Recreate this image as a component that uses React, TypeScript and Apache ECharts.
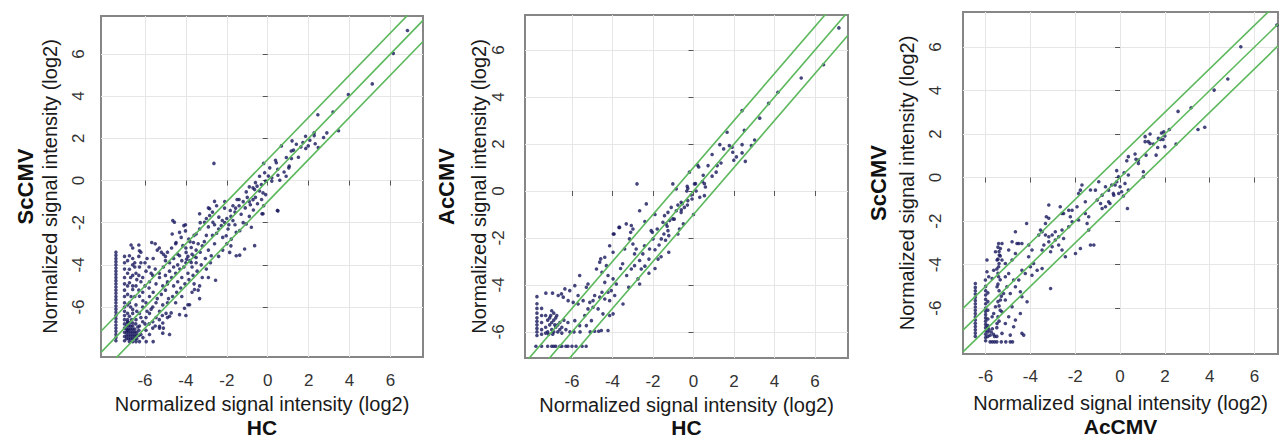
import React, { useEffect, useRef } from "react";
import * as echarts from "echarts";

// ---------- DATA ----------
const tickValues = [-6, -4, -2, 0, 2, 4, 6];
const foldOffsets = [1, 0, -1];
const axisTitle = "Normalized signal intensity (log2)";

// Panel 1: HC (x) vs ScCMV (y)
const hcVsScCMV: number[][] = [
  [6.83, 7.11], [6.14, 6.03], [5.11, 4.58], [3.94, 4.08], [3.19, 3.25], [2.45, 3.12], [3.46, 2.36], [2.89, 2.26],
  [2.73, 2.04], [2.27, 2.26], [2.27, 2.13], [1.85, 2.1], [2.06, 1.91], [2.32, 1.74], [2.47, 1.56], [1.98, 1.64],
  [1.86, 1.52], [1.62, 1.59], [1.72, 1.8], [1.4, 1.72], [1.19, 1.88], [1.26, 1.44], [1.15, 1.4], [0.91, 1.09],
  [1.16, 1.04], [0.67, 1.64], [1.05, 0.68], [1.03, 0.6], [0.38, 0.96], [0.42, 0.84], [0.49, 0.53], [-0.2, 0.81],
  [-0.15, 0.37], [0.03, 0.21], [0.2, 0.13], [0.2, -0.03], [0.5, 0.25], [0.59, 0.01], [-0.1, -0.03], [-0.31, -0.19],
  [-0.52, -0.27], [-0.64, -0.43], [-0.23, -0.59], [-0.1, -0.67], [-0.4, -0.5], [-0.72, -0.91], [-0.85, -1.15],
  [0.5, -1.44], [-0.23, -1.58],
  [-2.6, -0.99], [-2.11, -1.31], [-2.84, -1.34], [-1.83, -1.42], [-1.57, -1.31], [-2.84, -1.66], [-2.39, -1.74],
  [-2.22, -1.9], [-2.68, -1.98], [-2.27, -2.14], [-1.94, -2.3], [-2.03, -2.62], [-1.78, -2.78], [-1.54, -2.46],
  [-1.37, -2.38], [-1.05, -2.06], [-0.8, -2.22], [-0.64, -3.09], [-1.13, -3.25], [-1.54, -3.57], [-1.37, -3.54],
  [-1.86, -3.41], [-1.05, -0.54], [-0.72, -0.35], [-2.63, 0.81], [-0.28, -1.58], [0.47, -1.42], [-2.55, -4.73],
  [-1.2, -1.0], [-1.0, -0.8], [-1.4, -1.2], [-1.6, -1.5], [-1.3, -1.6], [-1.1, -1.3], [-0.9, -1.0], [-0.6, -0.8],
  [-0.5, -1.1], [-0.7, -1.4], [-1.8, -1.7], [-2.0, -1.8], [-2.1, -2.0], [-1.9, -2.1], [-1.7, -1.9], [-2.4, -2.3],
  [-2.5, -2.5], [-2.7, -2.6], [-2.9, -2.2], [-2.5, -1.2], [-2.7, -1.5], [-2.9, -1.3], [-2.6, -2.1], [-2.2, -2.7],
  [-2.0, -3.0], [-1.6, -2.1], [-1.2, -2.0], [-0.9, -1.7], [-1.4, -0.9], [-1.7, -1.2], [-0.3, -0.9], [-0.2, -1.2],
  [-3.33, -1.58], [-3.09, -1.98], [-3.33, -2.3], [-3.5, -2.54], [-3.63, -2.94], [-4.56, -1.98], [-4.02, -2.1],
  [-4.02, -2.39], [-3.33, -5.6], [-3.9, -5.89], [-4.31, -6.36], [-4.72, -6.28], [-5.13, -7.24], [-4.64, -1.9],
  [-4.1, -2.14], [-3.86, -2.78], [-3.74, -3.18], [-3.99, -3.41], [-4.15, -3.09], [-4.31, -3.57], [-3.96, -3.73],
  [-3.74, -3.89], [-3.5, -3.65], [-4.23, -2.7], [-4.48, -2.94], [-4.31, -2.46], [-4.67, -2.54], [-2.76, -3.57],
  [-3.33, -5.0], [-3.58, -5.17], [-3.82, -5.89], [-4.07, -6.06], [-4.8, -6.44], [-5.13, -6.76], [-5.29, -6.92],
  [-3.0, -2.6], [-3.1, -2.9], [-3.2, -3.1], [-3.3, -3.4], [-3.4, -3.0], [-3.5, -3.3], [-3.6, -3.6], [-3.7, -3.5],
  [-3.8, -3.8], [-3.9, -3.6], [-4.0, -3.9], [-4.1, -4.1], [-4.2, -3.8], [-4.3, -4.2], [-4.4, -4.0], [-4.5, -4.4],
  [-4.6, -4.1], [-4.7, -4.6], [-4.8, -4.3], [-4.9, -4.8], [-5.0, -4.5], [-3.05, -3.7], [-3.25, -4.0], [-3.45, -4.3],
  [-3.65, -4.5], [-3.85, -4.7], [-4.05, -4.9], [-4.25, -5.1], [-4.45, -5.3], [-4.65, -5.5], [-4.85, -5.6],
  [-3.2, -4.6], [-3.4, -5.2], [-3.0, -4.2], [-2.8, -3.9], [-2.9, -3.3], [-3.6, -2.6], [-3.8, -2.9], [-4.0, -3.2],
  [-4.4, -3.5], [-4.6, -3.7], [-4.8, -3.9], [-5.0, -3.8], [-4.9, -3.4], [-4.7, -3.2], [-4.5, -3.0], [-4.2, -4.6],
  [-4.4, -4.8], [-4.6, -5.0], [-3.9, -4.4], [-3.7, -4.1], [-3.5, -3.9],
  [-6.2, -3.4], [-5.9, -3.7], [-5.7, -4.4], [-6.5, -5.5], [-6.3, -5.2], [-6.1, -5.7], [-5.9, -6.2], [-5.7, -6.1],
  [-5.5, -6.9], [-5.3, -6.6], [-5.15, -6.4], [-6.6, -6.3], [-6.4, -6.2], [-6.2, -6.5], [-6.0, -6.8], [-5.8, -6.8],
  [-4.9, -6.5], [-4.5, -5.8], [-4.2, -5.5], [-3.7, -5.3], [-3.6, -4.9], [-2.9, -4.6], [-2.4, -3.6], [-2.2, -3.3],
  [-1.8, -3.1], [-2.6, -3.0], [-3.0, -1.8], [-3.3, -2.0], [-2.1, -1.0], [-1.5, -0.9], [-0.6, -0.1], [-0.4, 0.2],
  [0.1, 0.6], [0.8, 0.4], [1.5, 1.1], [0.9, 0.2], [-0.9, -0.3], [-6.6, -3.2], [-6.2, -3.9], [-6.6, -5.0],
  [-6.3, -4.5], [-6.5, -4.1], [-6.7, -4.6], [-6.68, -5.5], [-6.7, -6.0],
  [-6.76, -3.57], [-6.6, -3.7], [-6.76, -4.21], [-6.6, -4.0], [-6.44, -4.4], [-6.27, -4.1], [-6.11, -4.6],
  [-5.95, -4.3], [-5.78, -4.8], [-5.62, -4.5], [-5.46, -4.9], [-5.29, -4.6], [-5.13, -5.0], [-6.76, -4.85],
  [-6.6, -5.17], [-6.44, -5.0], [-6.27, -5.49], [-6.11, -5.3], [-5.95, -5.8], [-5.78, -5.5], [-5.62, -6.0],
  [-5.46, -5.8], [-5.29, -6.2], [-5.13, -5.9], [-4.97, -6.3], [-6.76, -5.8], [-6.6, -6.12], [-6.44, -5.9],
  [-6.27, -6.3], [-6.11, -6.0], [-5.95, -6.5], [-5.78, -6.3], [-5.62, -6.7], [-5.46, -6.5], [-5.29, -7.0],
  [-6.76, -6.44], [-6.6, -6.76], [-6.44, -6.6], [-6.27, -6.9], [-6.11, -6.7], [-5.95, -7.1], [-5.78, -7.3],
  [-5.62, -7.0], [-6.5, -3.9], [-6.3, -3.6], [-6.0, -3.9], [-5.8, -4.1], [-5.6, -3.7], [-5.5, -4.2], [-5.4, -3.3],
  [-5.3, -3.2], [-5.2, -3.4], [-5.1, -3.5], [-5.0, -3.6], [-5.5, -3.0], [-5.3, -4.4], [-5.1, -4.1], [-4.9, -4.9],
  [-5.2, -5.4], [-5.0, -5.2], [-4.9, -5.8], [-5.4, -5.6], [-5.6, -5.3], [-5.8, -5.1], [-6.0, -5.0], [-6.2, -4.8],
  [-6.4, -4.7], [-6.6, -4.5], [-6.68, -3.06], [-6.3, -3.06], [-6.27, -3.33], [-5.67, -2.94], [-4.0, -6.4],
  [-4.8, -7.3], [-5.1, -7.0],
  [-7.42, -3.4], [-7.42, -3.55], [-7.42, -3.7], [-7.42, -3.85], [-7.42, -4.0], [-7.42, -4.15], [-7.42, -4.3],
  [-7.42, -4.45], [-7.42, -4.6], [-7.42, -4.75], [-7.42, -4.9], [-7.42, -5.05], [-7.42, -5.2], [-7.42, -5.35],
  [-7.42, -5.5], [-7.42, -5.65], [-7.42, -5.8], [-7.42, -5.95], [-7.42, -6.1], [-7.42, -6.25], [-7.42, -6.4],
  [-7.42, -6.55], [-7.42, -6.7], [-7.42, -6.85], [-7.42, -7.0], [-7.42, -7.15], [-7.42, -7.3], [-7.42, -7.45],
  [-7.42, -7.6],
  [-7.0, -3.6], [-7.0, -3.9], [-7.0, -4.2], [-7.0, -4.6], [-7.0, -4.9], [-7.0, -5.2], [-7.0, -5.5], [-7.0, -5.8],
  [-7.0, -6.0], [-7.0, -6.2], [-7.0, -6.4], [-7.0, -6.6], [-7.0, -6.8], [-7.0, -7.0], [-7.0, -7.2], [-7.0, -7.4],
  [-7.0, -7.6], [-6.85, -3.8], [-6.85, -4.4], [-6.85, -5.0], [-6.85, -5.4], [-6.85, -5.9], [-6.85, -6.3],
  [-6.85, -6.7], [-6.85, -7.1],
  [-6.9, -7.5], [-6.8, -7.5], [-6.7, -7.5], [-6.6, -7.5], [-6.5, -7.5], [-6.4, -7.5], [-6.9, -7.35], [-6.8, -7.35],
  [-6.7, -7.35], [-6.6, -7.35], [-6.5, -7.35], [-6.4, -7.35], [-6.3, -7.35], [-6.9, -7.2], [-6.8, -7.2],
  [-6.7, -7.2], [-6.6, -7.2], [-6.5, -7.2], [-6.4, -7.2], [-6.9, -7.05], [-6.8, -7.05], [-6.7, -7.05],
  [-6.6, -7.05], [-6.5, -7.05], [-6.9, -6.9], [-6.8, -6.9], [-6.7, -6.9], [-6.6, -6.9], [-6.85, -6.75],
  [-6.75, -6.75], [-6.65, -6.6], [-6.85, -6.6], [-6.3, -7.1], [-6.2, -7.3], [-6.1, -7.45], [-6.45, -6.8],
  [-6.35, -6.95],
  [-6.76, -7.64], [-6.6, -7.64], [-6.44, -7.64], [-6.27, -7.64], [-5.94, -7.64], [-5.6, -7.64],
];

// Panel 2: HC (x) vs AcCMV (y)
const hcVsAcCMV: number[][] = [
  [7.18, 6.94], [6.42, 5.37], [5.32, 4.81], [4.17, 4.2], [3.71, 3.73], [3.27, 3.1], [2.4, 3.42], [2.51, 2.58],
  [1.66, 2.5], [3.02, 2.17], [2.86, 1.93], [2.4, 1.97], [1.91, 1.86], [1.77, 1.93], [1.3, 1.97], [1.49, 1.79],
  [0.92, 1.55], [1.94, 1.65], [2.12, 1.45], [1.99, 1.31], [2.4, 1.62], [2.56, 1.26], [1.36, 1.19], [1.17, 1.08],
  [0.72, 1.08], [0.26, 1.02], [0.2, 1.1], [-0.2, 0.8], [1.12, 0.8], [0.92, 0.63], [0.48, 0.67], [0.1, 0.31],
  [0.54, 0.31], [0.44, 0.4], [0.59, 0.17], [-0.31, 0.2], [-0.33, 0.0], [0.31, -0.27], [0.54, -0.2], [-0.07, -0.34],
  [-0.56, -0.54], [-0.3, -0.6], [-0.45, -0.7], [-0.6, -0.8], [0.0, -1.0],
  [-2.79, 0.3], [-2.66, -0.84], [-2.33, -0.55], [-1.02, 0.3], [-0.85, 0.09], [-0.28, 0.11], [0.05, 0.3],
  [0.13, 0.0], [-0.11, -0.17], [-0.28, -0.41], [-0.61, -0.48], [-0.77, -0.6], [-1.1, -0.7], [-0.85, -0.84],
  [-0.61, -0.91], [-1.26, -0.91], [-1.43, -1.05], [-1.51, -1.33], [-1.18, -1.26], [-1.02, -1.19], [-1.35, -1.4],
  [-1.26, -1.69], [-0.69, -1.62], [-1.22, -1.9], [-0.77, -1.83], [-1.22, -2.61], [-1.59, -2.04], [-2.09, -1.69],
  [-2.0, -2.04], [-2.42, -2.33], [-2.17, -2.47], [-2.5, -2.68], [-2.66, -2.96], [-2.91, -3.18], [-3.07, -3.32],
  [-2.58, -3.32], [-2.74, -3.74], [-2.66, -3.96], [-3.07, -1.47], [-3.32, -1.4], [-2.99, -1.62], [-3.1, -1.76],
  [-3.16, -2.04], [-2.99, -2.26], [-2.83, -2.47], [-2.91, -2.68], [-3.4, -2.47], [-3.65, -1.55], [-3.92, -1.83],
  [-4.14, -2.33], [-3.97, -2.61], [-4.38, -2.82], [-4.58, -2.89], [-4.3, -3.18], [-4.63, -3.03], [-4.79, -3.32],
  [-4.52, -3.46], [-4.22, -3.6], [-3.97, -3.74], [-3.81, -3.96], [-4.38, -3.89], [-4.06, -4.24], [-4.22, -4.31],
  [-4.52, -4.31], [-4.63, -4.52], [-4.38, -4.6], [-4.14, -4.67], [-3.89, -4.45], [-3.48, -4.81], [-3.97, -5.23],
  [-4.14, -5.3], [-4.47, -5.23], [-4.71, -5.02], [-4.96, -4.95], [-5.21, -5.02], [-5.37, -5.3], [-5.29, -4.1],
  [-5.21, -3.96], [-5.62, -3.6], [-5.86, -4.03], [-6.11, -4.24], [-6.35, -4.17], [-6.52, -4.38], [-6.68, -4.45],
  [-6.43, -4.52], [-6.19, -4.67], [-5.94, -4.74], [-5.7, -4.81], [-5.45, -4.67], [-5.12, -4.74], [-4.96, -4.67],
  [-4.88, -4.45], [-5.7, -4.45], [-5.86, -5.52], [-5.62, -5.73], [-5.29, -5.73], [-5.04, -5.52], [-3.68, -1.55],
  [-3.96, -1.83], [-2.03, -1.76], [-1.79, -1.62], [-1.46, -1.83], [-1.3, -1.5], [-1.38, -2.1], [-1.7, -2.3],
  [-2.2, -2.9], [-2.4, -3.2], [-1.9, -2.5], [-1.6, -2.8], [-1.9, -3.3], [-2.2, -3.5], [-3.3, -3.6], [-3.5, -3.1],
  [-3.6, -3.3], [-2.4, -1.3], [-1.9, -1.0], [-0.95, -1.2], [-0.5, -1.4], [-1.75, -2.9], [-3.2, -4.1],
  [-7.73, -4.5], [-7.73, -4.8], [-7.73, -5.0], [-7.73, -5.2], [-7.73, -5.4], [-7.73, -5.55], [-7.73, -5.7],
  [-7.73, -5.85], [-7.73, -6.0], [-7.73, -6.15], [-7.5, -5.0], [-7.5, -5.3], [-7.5, -5.6], [-7.5, -5.9],
  [-7.5, -6.1], [-7.29, -4.35], [-6.96, -4.35],
  [-7.3, -5.3], [-7.2, -5.5], [-7.1, -5.7], [-7.0, -5.9], [-6.9, -6.0], [-7.2, -6.0], [-7.3, -5.8], [-7.1, -5.4],
  [-7.0, -5.6], [-6.9, -5.5], [-6.8, -5.8], [-6.7, -5.7], [-6.6, -5.6], [-6.8, -5.4], [-6.9, -5.2], [-7.0, -5.1],
  [-6.7, -6.0], [-6.6, -5.9], [-6.5, -5.8], [-6.4, -5.5], [-6.3, -5.9], [-6.2, -5.6], [-6.5, -6.05], [-6.1, -6.0],
  [-7.3, -6.05], [-7.15, -6.1], [-6.95, -6.1], [-6.85, -5.7], [-7.05, -5.3], [-6.75, -5.3],
  [-7.78, -6.61], [-7.5, -6.61], [-7.2, -6.61], [-7.0, -6.61], [-6.9, -6.61], [-6.8, -6.61], [-6.6, -6.61],
  [-6.5, -6.61], [-6.3, -6.61], [-6.2, -6.61], [-6.0, -6.61], [-5.8, -6.61], [-5.5, -6.61], [-5.3, -6.61],
  [-5.9, -6.0], [-5.6, -6.0], [-5.1, -6.0], [-4.88, -5.97], [-4.68, -5.97], [-4.55, -5.94], [-4.22, -5.94],
];

// Panel 3: AcCMV (x) vs ScCMV (y)
const acCMVVsScCMV: number[][] = [
  [7.0, 7.01], [5.39, 6.01], [4.81, 4.53], [4.2, 4.02], [3.17, 3.21], [2.59, 3.04], [3.78, 2.31], [3.48, 2.21],
  [2.5, 1.54], [2.2, 2.21], [2.0, 1.91], [2.0, 1.42], [1.95, 2.1], [1.85, 2.05], [1.92, 1.75], [1.8, 1.75],
  [1.71, 1.8], [1.49, 1.54], [1.34, 2.0], [1.12, 1.88], [1.12, 1.65], [1.26, 1.65], [1.34, 1.57], [1.16, 1.03],
  [1.61, 1.03], [1.68, 1.38], [0.67, 1.08], [0.71, 0.84], [0.82, 0.8], [0.82, 0.65], [0.37, 0.96], [0.3, 0.77],
  [1.04, 0.27], [1.04, 0.04], [0.37, 0.12], [-0.15, 0.32], [0.18, 0.22], [-0.07, 0.04], [-0.15, -0.19],
  [-0.22, -0.34], [0.0, -0.42], [0.22, -0.27], [0.07, -0.65], [-0.3, -0.73], [0.37, -0.57], [0.15, -0.85],
  [-0.45, -1.19], [0.33, -1.42], [-0.37, -0.34],
  [-0.06, -0.73], [-0.51, -0.58], [-0.65, -0.42], [-0.28, -0.81], [-0.8, -0.81], [-1.02, -1.03], [-0.87, -1.19],
  [-0.65, -1.34], [-0.51, -1.11], [-0.8, -1.42], [-1.1, -0.58], [-0.95, -0.19], [-1.7, -0.34], [-1.32, -0.57],
  [-1.77, -0.58], [-1.85, -0.73], [-1.55, -1.11], [-1.92, -1.34], [-2.14, -1.5], [-2.29, -1.5], [-2.59, -1.65],
  [-2.22, -1.8], [-1.85, -1.95], [-1.55, -1.65], [-1.4, -1.8], [-1.47, -2.11], [-1.4, -2.41], [-1.32, -3.1],
  [-1.17, -3.1], [-1.77, -3.26], [-1.99, -3.49], [-2.44, -3.64], [-2.59, -3.33], [-2.74, -3.1], [-3.03, -3.18],
  [-2.89, -2.87], [-3.18, -2.72], [-3.33, -2.64], [-3.48, -2.49], [-3.55, -2.41], [-3.33, -2.11], [-3.63, -2.64],
  [-3.18, -1.26], [-3.29, -1.8], [-3.18, -1.87], [-2.67, -1.34], [-2.52, -1.65], [-2.14, -2.03], [-2.29, -2.26],
  [-2.59, -2.41], [-2.89, -2.49], [-3.03, -2.64], [-2.74, -2.72], [-2.52, -2.8], [-3.18, -2.95], [-3.4, -3.1],
  [-3.48, -3.33], [-3.1, -3.41], [-3.48, -4.18], [-3.1, -5.1], [-4.17, -2.11], [-4.67, -2.49], [-4.38, -3.03],
  [-4.52, -3.03], [-4.08, -3.1], [-3.93, -3.33], [-4.08, -3.64], [-3.86, -3.95], [-4.0, -4.1], [-3.7, -4.26],
  [-3.93, -4.49], [-4.23, -4.41], [-4.38, -4.26], [-4.52, -4.71], [-4.67, -5.02], [-4.45, -5.25], [-4.38, -5.48],
  [-4.45, -6.25], [-4.67, -6.55], [-4.75, -6.86], [-4.9, -7.24], [-4.38, -7.16], [-4.3, -7.24], [-4.15, -5.71],
  [-5.27, -3.03], [-5.42, -3.03], [-5.34, -3.26], [-5.39, -3.56], [-5.27, -3.79], [-5.42, -4.1], [-5.56, -3.41],
  [-5.49, -3.79], [-5.64, -4.26], [-5.71, -4.64], [-5.42, -4.56], [-5.49, -5.02], [-5.34, -5.63], [-5.56, -5.94],
  [-5.64, -6.25], [-5.71, -6.4], [-5.49, -6.71], [-5.27, -7.16], [-5.12, -6.71], [-4.97, -6.4], [-4.82, -5.94],
  [-4.9, -5.33], [-4.75, -4.71], [-4.97, -4.41], [-4.82, -3.79], [-4.67, -3.49], [-4.6, -3.03], [-4.82, -2.95],
  [-4.97, -3.33], [-5.12, -3.95], [-5.12, -4.56], [-5.05, -5.02], [-5.2, -5.33], [-5.12, -5.63], [-5.27, -6.17],
  [-5.94, -3.79], [-5.94, -4.33], [-5.86, -4.56], [-6.01, -4.71],
  [-5.45, -3.2], [-5.4, -3.4], [-5.35, -3.6], [-5.45, -3.75], [-5.4, -3.95], [-5.5, -4.2], [-5.45, -4.4],
  [-5.35, -4.7], [-5.45, -4.9], [-5.4, -5.2], [-5.3, -5.45], [-5.45, -5.7], [-5.4, -5.9], [-5.35, -6.1],
  [-5.45, -6.4], [-5.4, -6.6], [-5.5, -6.9],
  [-6.46, -4.87], [-6.46, -5.05], [-6.46, -5.2], [-6.46, -5.35], [-6.46, -5.5], [-6.46, -5.65], [-6.46, -5.8],
  [-6.46, -5.95], [-6.46, -6.1], [-6.46, -6.25], [-6.46, -6.4], [-6.46, -6.55], [-6.46, -6.7], [-6.46, -6.85],
  [-6.46, -7.0], [-6.46, -7.15], [-6.46, -7.3],
  [-6.0, -5.0], [-6.0, -5.2], [-6.0, -5.4], [-6.0, -5.6], [-6.0, -5.8], [-6.0, -6.0], [-6.0, -6.15], [-6.0, -6.3],
  [-6.0, -6.45], [-6.0, -6.6], [-6.0, -6.75], [-6.0, -6.9], [-6.0, -7.05], [-6.0, -7.2], [-6.0, -7.35],
  [-6.0, -7.5], [-5.9, -5.3], [-5.9, -5.7], [-5.9, -6.1], [-5.9, -6.5], [-5.9, -6.9], [-5.9, -7.1], [-5.9, -7.3],
  [-5.8, -7.55], [-5.7, -7.55], [-5.6, -7.55], [-5.5, -7.55], [-5.3, -7.55], [-5.1, -7.55], [-4.9, -7.55],
  [-4.8, -7.55], [-5.85, -7.0], [-5.75, -7.1], [-5.65, -7.2], [-5.8, -7.25], [-5.7, -6.95], [-5.6, -7.3],
  [-5.5, -7.3], [-5.9, -6.8],
];

// ---------- CHART ----------
const FONT = "'Liberation Sans', Arial, Helvetica, sans-serif";
const panels = [
  {
    points: hcVsScCMV, xLabel: "HC", yLabel: "ScCMV",
    xMin: -8.15, xMax: 7.59, yMin: -8.37, yMax: 7.8,
    grid: { left: 101, top: 16, width: 322, height: 341 },
    yGap: 39, yBoldLH: 26, yMargin: 14, xGap: 34, xBoldLH: 24, xMargin: 15,
  },
  {
    points: hcVsAcCMV, xLabel: "HC", yLabel: "AcCMV",
    xMin: -8.32, xMax: 7.63, yMin: -7.11, yMax: 7.49,
    grid: { left: 525, top: 15, width: 323, height: 343 },
    yGap: 30, yBoldLH: 42, yMargin: 18, xGap: 35, xBoldLH: 20, xMargin: 15,
  },
  {
    points: acCMVVsScCMV, xLabel: "AcCMV", yLabel: "ScCMV",
    xMin: -7.01, xMax: 7.05, yMin: -8.11, yMax: 7.61,
    grid: { left: 963, top: 12, width: 315, height: 342 },
    yGap: 44, yBoldLH: 34, yMargin: 19, xGap: 37, xBoldLH: 22, xMargin: 14,
  },
];

function buildOption() {
  const grids: any[] = [];
  const xAxes: any[] = [];
  const yAxes: any[] = [];
  const series: any[] = [];
  panels.forEach((p, i) => {
    grids.push({
      ...p.grid,
      show: true,
      containLabel: false,
      outerBoundsMode: "none",
      borderColor: "#868686",
      borderWidth: 2,
      backgroundColor: "#ffffff",
    });
    const common = {
      type: "value",
      gridIndex: i,
      axisLine: { show: false },
      axisTick: { show: true, length: 5, customValues: tickValues, lineStyle: { color: "#555", width: 1 } },
      splitLine: { show: true, lineStyle: { color: "#e6e6e6", width: 1 } },
      nameLocation: "middle",
    };
    xAxes.push({
      ...common,
      min: p.xMin,
      max: p.xMax,
      axisLabel: { customValues: tickValues, fontSize: 17, color: "#333", fontFamily: FONT, margin: p.xMargin },
      name: `{n|${axisTitle}}\n{b|${p.xLabel}}`,
      nameGap: p.xGap,
      nameTextStyle: {
        rich: {
          n: { fontSize: 20, lineHeight: 24, color: "#1a1a1a", fontFamily: FONT },
          b: { fontSize: 21, lineHeight: p.xBoldLH, fontWeight: "bold", color: "#111", fontFamily: FONT },
        },
      },
    });
    yAxes.push({
      ...common,
      min: p.yMin,
      max: p.yMax,
      axisLabel: { customValues: tickValues, rotate: 90, fontSize: 17, color: "#333", fontFamily: FONT, margin: p.yMargin },
      name: `{b|${p.yLabel}}\n{n|${axisTitle}}`,
      nameGap: p.yGap,
      nameTextStyle: {
        rich: {
          n: { fontSize: 20, lineHeight: 24, color: "#1a1a1a", fontFamily: FONT },
          b: { fontSize: 22, lineHeight: p.yBoldLH, fontWeight: "bold", color: "#111", fontFamily: FONT },
        },
      },
    });
    series.push({
      type: "scatter",
      xAxisIndex: i,
      yAxisIndex: i,
      symbol: "circle",
      symbolSize: 3.6,
      itemStyle: { color: "#18185e" },
      data: p.points,
      silent: true,
      z: 2,
    });
    foldOffsets.forEach((c) => {
      series.push({
        type: "line",
        xAxisIndex: i,
        yAxisIndex: i,
        data: [
          [p.xMin, p.xMin + c],
          [p.xMax, p.xMax + c],
        ],
        symbol: "none",
        showSymbol: false,
        clip: true,
        silent: true,
        lineStyle: { color: "#5cb85c", width: 1.6 },
        z: 3,
      });
    });
  });
  return {
    animation: false,
    backgroundColor: "#ffffff",
    grid: grids,
    xAxis: xAxes,
    yAxis: yAxes,
    series,
  };
}

export default function App() {
  const ref = useRef<HTMLDivElement>(null);
  useEffect(() => {
    document.body.style.margin = "0";
    if (!ref.current) return;
    const chart = echarts.init(ref.current, undefined, { renderer: "svg" });
    chart.setOption(buildOption() as any);
    return () => chart.dispose();
  }, []);
  return <div ref={ref} style={{ width: 1279, height: 439 }} />;
}
